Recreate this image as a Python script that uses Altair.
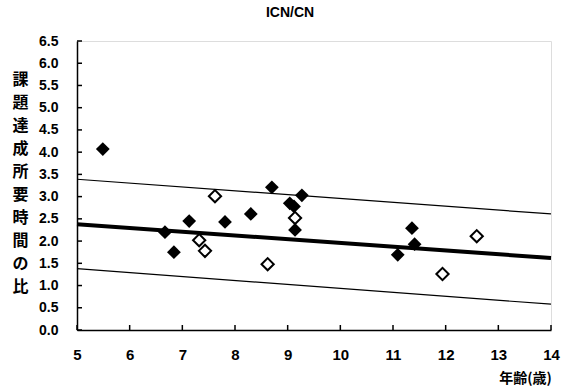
import altair as alt
import pandas as pd

# filled diamonds
filled_age = [5.49, 6.67, 6.84, 7.13, 7.81, 8.30, 8.70, 9.04, 9.12, 9.27, 9.14, 11.36, 11.41, 11.09]
filled_ratio = [4.07, 2.20, 1.75, 2.45, 2.43, 2.61, 3.21, 2.85, 2.78, 3.03, 2.25, 2.29, 1.93, 1.69]
# open diamonds
open_age = [7.62, 7.32, 7.43, 8.62, 9.14, 11.94, 12.59]
open_ratio = [3.01, 2.02, 1.78, 1.48, 2.52, 1.26, 2.11]
# regression line and band
line_age = [5, 14]
fit = [2.38, 1.62]
upper = [3.39, 2.61]
lower = [1.38, 0.58]

x_ticks = [5, 6, 7, 8, 9, 10, 11, 12, 13, 14]
y_ticks = [0.0, 0.5, 1.0, 1.5, 2.0, 2.5, 3.0, 3.5, 4.0, 4.5, 5.0, 5.5, 6.0, 6.5]

FONT = "Liberation Sans"

xs = alt.Scale(domain=[5, 14], nice=False, zero=False)
ys = alt.Scale(domain=[0, 6.5], nice=False, zero=True)

filled_df = pd.DataFrame({"age": filled_age, "ratio": filled_ratio})
open_df = pd.DataFrame({"age": open_age, "ratio": open_ratio})
line_df = pd.DataFrame({"age": line_age, "fit": fit, "upper": upper, "lower": lower})
xt_df = pd.DataFrame({"t": x_ticks})
yt_df = pd.DataFrame({"t": y_ticks})

x_axis = alt.Axis(
    values=x_ticks, format="d", tickSize=0, labelPadding=17,
    labelFont=FONT, labelFontSize=15, labelFontWeight="bold", labelColor="black",
    domainColor="black", domainWidth=1.5, grid=False, labelFlush=False,
    labelOverlap=False,
    title="年齢(歳)", titleFont="Noto Sans CJK JP", titleFontSize=14, titleFontWeight="bold",
    titleColor="black", titleX=448, titleY=48, titleAlign="center", titleBaseline="middle",
)
y_axis = alt.Axis(
    values=y_ticks, format=".1f", tickSize=0, labelPadding=19,
    labelFont=FONT, labelFontSize=14, labelFontWeight="bold", labelColor="black",
    domainColor="black", domainWidth=1.5, grid=False, labelFlush=False,
    labelOverlap=False,
    title=list("課題達成所要時間の比"), titleFont="Noto Sans CJK JP", titleFontSize=16,
    titleFontWeight="bold", titleColor="black", titleAngle=0, titleLineHeight=23,
    titleX=-57, titleY=30, titleAlign="center", titleBaseline="top",
)


def X(field):
    return alt.X(field, scale=xs, axis=x_axis)


def Y(field):
    return alt.Y(field, scale=ys, axis=y_axis)


base = alt.Chart(line_df)

upper_line = base.mark_line(color="black", strokeWidth=1.2).encode(
    x=X("age:Q"), y=Y("upper:Q"))
lower_line = base.mark_line(color="black", strokeWidth=1.2).encode(
    x=X("age:Q"), y=Y("lower:Q"))
fit_line = base.mark_line(color="black", strokeWidth=4).encode(
    x=X("age:Q"), y=Y("fit:Q"))

filled_pts = alt.Chart(filled_df).mark_point(
    shape="diamond", filled=True, color="black", size=190, opacity=1).encode(
    x=X("age:Q"), y=Y("ratio:Q"))
open_pts = alt.Chart(open_df).mark_point(
    shape="diamond", filled=True, fill="white", stroke="black", strokeWidth=2,
    size=150, opacity=1).encode(
    x=X("age:Q"), y=Y("ratio:Q"))

xticks = alt.Chart(xt_df).mark_rule(color="black", strokeWidth=1.5).encode(
    x=X("t:Q"), y=alt.value(289), y2=alt.value(284))
yticks = alt.Chart(yt_df).mark_rule(color="black", strokeWidth=1.5).encode(
    y=Y("t:Q"), x=alt.value(0), x2=alt.value(5))

chart = alt.layer(
    upper_line, lower_line, fit_line, xticks, yticks, filled_pts, open_pts
).properties(
    width=474, height=289,
    title=alt.TitleParams("ICN/CN", font=FONT, fontSize=14, fontWeight="bold",
                          color="black", anchor="middle", dx=-24, offset=14),
    autosize="none",
    padding={"left": 77, "top": 41, "right": 10, "bottom": 60},
).configure_view(stroke=None).configure(background="white")

chart.save("out.html", embed_options={"renderer": "svg", "actions": False})
